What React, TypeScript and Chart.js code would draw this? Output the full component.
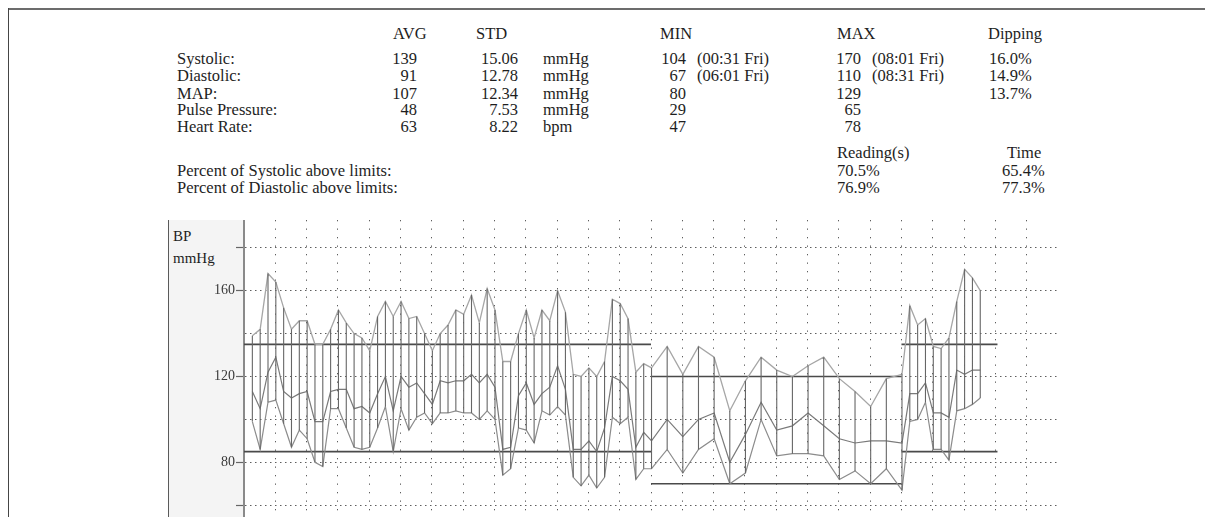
import React, { useEffect, useRef } from 'react';
import { Chart, registerables } from 'chart.js';

Chart.register(...registerables);

// ---------- chart data ----------
const readingTimes = [
  '09:16', '09:31', '09:46', '10:01', '10:16', '10:31', '10:46', '11:01', '11:16', '11:31', '11:46', '12:01',
  '12:16', '12:31', '12:46', '13:01', '13:16', '13:31', '13:46', '14:01', '14:16', '14:31', '14:46', '15:01',
  '15:16', '15:31', '15:46', '16:01', '16:16', '16:31', '16:46', '17:01', '17:16', '17:31', '17:46', '18:01',
  '18:16', '18:31', '18:46', '19:01', '19:16', '19:31', '19:46', '20:01', '20:16', '20:31', '20:46', '21:01',
  '21:16', '21:31', '21:46', '22:01',
  '22:31', '23:01', '23:31', '00:01', '00:31', '01:01', '01:31', '02:01', '02:31', '03:01', '03:31', '04:01',
  '04:31', '05:01', '05:31', '06:01',
  '06:16', '06:31', '06:46', '07:01', '07:16', '07:31', '07:46', '08:01', '08:16', '08:31',
];

const systolic = [
  139, 142, 168, 164, 152, 142, 146, 146, 135, 135, 142, 151,
  145, 140, 138, 132, 148, 155, 148, 155, 147, 148, 140, 132,
  140, 144, 151, 149, 158, 145, 161, 151, 127, 127, 140, 151,
  138, 151, 146, 160, 150, 121, 120, 124, 120, 127, 156, 154,
  147, 122, 126, 124,
  134, 121, 134, 129, 104, 118, 129, 123, 120, 125, 129, 119,
  113, 106, 119, 121,
  153, 144, 147, 134, 133, 138, 155, 170, 166, 160,
];

const meanArterial = [
  113, 105, 122, 129, 113, 110, 112, 113, 99, 99, 113, 114,
  114, 105, 106, 103, 112, 120, 104, 120, 115, 117, 112, 107,
  118, 117, 118, 118, 121, 117, 121, 115, 86, 87, 111, 117,
  107, 112, 115, 125, 114, 86, 86, 90, 85, 96, 120, 118,
  114, 87, 94, 90,
  100, 92, 100, 103, 80, 93, 108, 95, 97, 103, 97, 91,
  89, 90, 90, 89,
  112, 112, 117, 103, 103, 101, 123, 121, 123, 123,
];

const diastolic = [
  99, 86, 108, 109, 98, 87, 95, 91, 80, 78, 105, 105,
  96, 87, 86, 87, 96, 106, 85, 105, 95, 101, 103, 98,
  103, 103, 104, 103, 103, 100, 104, 100, 74, 77, 96, 95,
  89, 104, 102, 106, 102, 73, 69, 74, 68, 73, 101, 98,
  101, 72, 77, 77,
  86, 75, 86, 91, 70, 75, 100, 83, 84, 84, 83, 72,
  76, 70, 77, 67,
  99, 100, 108, 86, 86, 81, 104, 105, 107, 110,
];

const limitStarts = ['09:00', '22:00', '06:00'];
const limitEnds = ['22:00', '06:00', '09:04'];
const systolicLimits = [135, 120, 135];
const diastolicLimits = [85, 70, 85];

const hourGridValues = [1, 2, 3, 4, 5, 6, 7, 8, 9, 10, 11, 12, 13, 14, 15, 16, 17, 18, 19, 20, 21, 22, 23, 24, 25];
const yGridValues = [60, 80, 100, 120, 140, 160, 180];
const yLabelValues = [80, 120, 160];
const yTickMarkValues = [60, 80, 120, 160, 180];

// ---------- summary table text ----------
const statLabels = ['Systolic:', 'Diastolic:', 'MAP:', 'Pulse Pressure:', 'Heart Rate:'];
const avgValues = ['139', '91', '107', '48', '63'];
const stdValues = ['15.06', '12.78', '12.34', '7.53', '8.22'];
const unitLabels = ['mmHg', 'mmHg', 'mmHg', 'mmHg', 'bpm'];
const minValues = ['104', '67', '80', '29', '47'];
const minTimes = ['(00:31 Fri)', '(06:01 Fri)', '', '', ''];
const maxValues = ['170', '110', '129', '65', '78'];
const maxTimes = ['(08:01 Fri)', '(08:31 Fri)', '', '', ''];
const dippingValues = ['16.0%', '14.9%', '13.7%', '', ''];
const percentLabels = ['Percent of Systolic above limits:', 'Percent of Diastolic above limits:'];
const readingPercents = ['70.5%', '76.9%'];
const timePercents = ['65.4%', '77.3%'];

const SERIF = "'Liberation Serif', 'Times New Roman', Times, serif";

function toHoursSeq(list: string[]): number[] {
  const out: number[] = [];
  let prev = -Infinity;
  for (const s of list) {
    const [h, m] = s.split(':').map(Number);
    let v = h + m / 60 - 9;
    while (v < prev) v += 24;
    out.push(v);
    prev = v;
  }
  return out;
}

const CANVAS_LEFT = 168;
const CANVAS_TOP = 220;
const CANVAS_W = 890;
const CANVAS_H = 297;

type TxtProps = { x: number; cy: number; text: string; right?: boolean; size?: number };
function Txt({ x, cy, text, right, size = 16.5 }: TxtProps) {
  const lh = Math.round(size + 2);
  const capCenter = (lh - size * 1.107) / 2 + size * 0.891 - size * 0.331;
  return (
    <div
      style={{
        position: 'absolute',
        left: x,
        top: cy - capCenter,
        fontSize: size,
        lineHeight: lh + 'px',
        whiteSpace: 'pre',
        transform: right ? 'translateX(-100%)' : undefined,
        color: '#1e1e1e',
      }}
    >
      {text}
    </div>
  );
}

export default function App() {
  const ref = useRef<HTMLCanvasElement>(null);

  useEffect(() => {
    if (!ref.current) return;
    const times = toHoursSeq(readingTimes);
    const starts = toHoursSeq(limitStarts);
    const ends = toHoursSeq(limitEnds);

    const barData: any[] = [];
    times.forEach((t, i) => {
      barData.push({ x: t, y: diastolic[i] }, { x: t, y: systolic[i] }, { x: t, y: null });
    });
    const sysLimitData: any[] = [];
    const diaLimitData: any[] = [];
    starts.forEach((s, i) => {
      sysLimitData.push({ x: s, y: systolicLimits[i] }, { x: ends[i], y: systolicLimits[i] }, { x: ends[i], y: null });
      diaLimitData.push({ x: s, y: diastolicLimits[i] }, { x: ends[i], y: diastolicLimits[i] }, { x: ends[i], y: null });
    });

    const yMax = 120 + (376.5 - CANVAS_TOP) / 2.145;
    const yMin = 120 - (CANVAS_TOP + CANVAS_H - 376.5) / 2.145;

    const line = (data: any[], color: string, width: number) => ({
      data,
      borderColor: color,
      borderWidth: width,
      pointRadius: 0,
      fill: false,
      spanGaps: false,
      tension: 0,
    });

    const chart = new Chart(ref.current, {
      type: 'line',
      data: {
        datasets: [
          line(barData, '#666666', 1.1),
          line(times.map((t, i) => ({ x: t, y: systolic[i] })), '#a6a6a6', 1.3),
          line(times.map((t, i) => ({ x: t, y: meanArterial[i] })), '#7a7a7a', 1.2),
          line(times.map((t, i) => ({ x: t, y: diastolic[i] })), '#8c8c8c', 1.2),
          line(sysLimitData, '#4a4a4a', 1.6),
          line(diaLimitData, '#4a4a4a', 1.6),
        ],
      },
      options: {
        animation: false,
        responsive: false,
        maintainAspectRatio: false,
        layout: { padding: 0 },
        plugins: { legend: { display: false }, tooltip: { enabled: false } },
        scales: {
          x: {
            type: 'linear',
            min: 0,
            max: 26,
            afterBuildTicks: (s: any) => {
              s.ticks = hourGridValues.map((v) => ({ value: v }));
            },
            afterFit: (s: any) => {
              s.height = 0;
            },
            ticks: { display: false },
            grid: { color: '#5e5e5e', lineWidth: 1, drawTicks: false },
            border: { display: false, dash: [1.3, 7.2] },
          },
          y: {
            type: 'linear',
            min: yMin,
            max: yMax,
            afterBuildTicks: (s: any) => {
              s.ticks = yGridValues.map((v) => ({ value: v }));
            },
            afterFit: (s: any) => {
              s.width = 244 - CANVAS_LEFT;
              s.paddingTop = 0;
              s.paddingBottom = 0;
            },
            ticks: {
              callback: (v: any) => (yLabelValues.includes(Number(v)) ? String(v) : ''),
              font: { family: SERIF, size: 14 },
              color: '#3a3a3a',
              padding: 1,
            },
            grid: {
              color: '#5e5e5e',
              lineWidth: 1,
              tickLength: 8,
              tickWidth: 1.2,
              tickBorderDash: [],
              tickColor: (ctx: any) =>
                ctx.tick && yTickMarkValues.includes(ctx.tick.value) ? '#666666' : 'rgba(0,0,0,0)',
            },
            border: { display: true, color: '#8a8a8a', width: 2, dash: [1.5, 3.5] },
          },
        },
      },
    } as any);
    return () => chart.destroy();
  }, []);

  const header = 33.5;
  const rows = [58.5, 76, 93.5, 110, 126.5];
  const readingHeader = 153;
  const pctRows = [171, 187.5];

  return (
    <div
      style={{
        position: 'absolute',
        left: 0,
        top: 0,
        width: 1205,
        height: 517,
        overflow: 'hidden',
        background: '#ffffff',
        fontFamily: SERIF,
      }}
    >
      {/* page frame */}
      <div style={{ position: 'absolute', left: 8, top: 8, width: 1197, height: 2, background: '#6c6c6c' }} />
      <div style={{ position: 'absolute', left: 8, top: 8, width: 1, height: 509, background: '#454545' }} />

      {/* header */}
      <Txt x={393} cy={header} text="AVG" />
      <Txt x={476} cy={header} text="STD" />
      <Txt x={660} cy={header} text="MIN" />
      <Txt x={837} cy={header} text="MAX" />
      <Txt x={988} cy={header} text="Dipping" />

      {statLabels.map((l, i) => (
        <React.Fragment key={l}>
          <Txt x={177} cy={rows[i]} text={l} />
          <Txt x={417} cy={rows[i]} text={avgValues[i]} right />
          <Txt x={518} cy={rows[i]} text={stdValues[i]} right />
          <Txt x={543} cy={rows[i]} text={unitLabels[i]} />
          <Txt x={686} cy={rows[i]} text={minValues[i]} right />
          {minTimes[i] && <Txt x={697} cy={rows[i]} text={minTimes[i]} />}
          <Txt x={861} cy={rows[i]} text={maxValues[i]} right />
          {maxTimes[i] && <Txt x={872} cy={rows[i]} text={maxTimes[i]} />}
          {dippingValues[i] && <Txt x={989} cy={rows[i]} text={dippingValues[i]} />}
        </React.Fragment>
      ))}

      <Txt x={837} cy={readingHeader} text="Reading(s)" />
      <Txt x={1007} cy={readingHeader} text="Time" />
      {percentLabels.map((l, i) => (
        <React.Fragment key={l}>
          <Txt x={177} cy={pctRows[i]} text={l} />
          <Txt x={837} cy={pctRows[i]} text={readingPercents[i]} />
          <Txt x={1002} cy={pctRows[i]} text={timePercents[i]} />
        </React.Fragment>
      ))}

      {/* axis panel */}
      <div
        style={{
          position: 'absolute',
          left: CANVAS_LEFT,
          top: CANVAS_TOP,
          width: 244 - CANVAS_LEFT,
          height: 517 - CANVAS_TOP,
          background: '#f4f4f4',
          borderLeft: '1px solid #5a5a5a',
          boxSizing: 'border-box',
        }}
      />
      <Txt x={173} cy={236.7} text="BP" size={15} />
      <Txt x={173} cy={258.3} text="mmHg" size={15} />

      <canvas
        ref={ref}
        width={CANVAS_W}
        height={CANVAS_H}
        style={{ position: 'absolute', left: CANVAS_LEFT, top: CANVAS_TOP, width: CANVAS_W, height: CANVAS_H }}
      />
    </div>
  );
}
